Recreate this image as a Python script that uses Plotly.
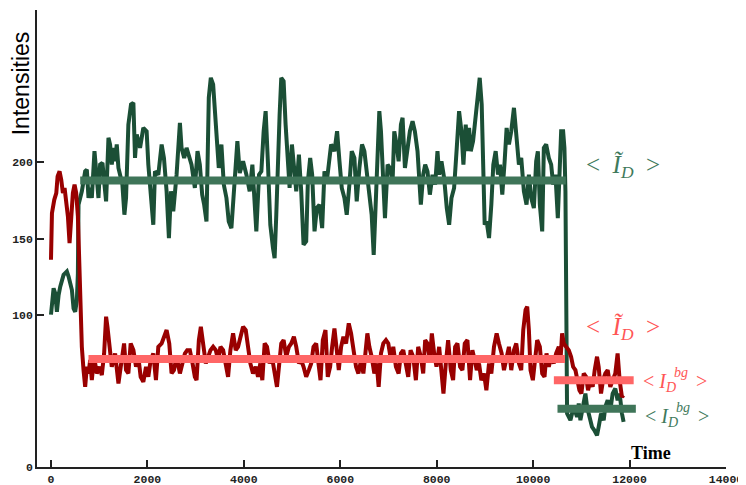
import plotly.graph_objects as go

# ---- data ----
green_t = [0, 20, 54, 89, 123, 158, 192, 261, 330, 365, 399, 434, 468, 502, 537, 558,
           571, 606, 640, 709, 744, 778, 813, 847, 902, 950, 985, 1019, 1068, 1109, 1143,
           1192, 1226, 1261, 1295, 1330, 1364, 1399, 1433, 1481, 1523, 1557, 1605, 1660,
           1709, 1743, 1778, 1847, 1915, 1984, 2019, 2074, 2122, 2157, 2226, 2295, 2343,
           2398, 2446, 2488, 2536, 2605, 2639, 2674, 2708, 2763, 2812, 2860, 2915, 2984,
           3039, 3087, 3136, 3177, 3225, 3273, 3315, 3363, 3398, 3432, 3480, 3535, 3584,
           3639, 3687, 3742, 3777, 3825, 3866, 3915, 3984, 4053, 4121, 4177, 4225, 4259,
           4315, 4363, 4411, 4452, 4501, 4549, 4604, 4638, 4673, 4707, 4742, 4776, 4825,
           4866, 4914, 4949, 4997, 5038, 5087, 5142, 5190, 5238, 5293, 5328, 5376, 5417,
           5466, 5514, 5569, 5624, 5672, 5721, 5762, 5810, 5879, 5934, 5983, 6031, 6086,
           6134, 6189, 6238, 6293, 6341, 6396, 6451, 6500, 6548, 6603, 6651, 6693, 6741,
           6775, 6810, 6844, 6879, 6927, 6982, 7030, 7085, 7120, 7168, 7210, 7258, 7292,
           7341, 7396, 7444, 7499, 7547, 7602, 7637, 7671, 7720, 7761, 7809, 7858, 7913,
           7968, 8016, 8051, 8099, 8154, 8209, 8258, 8306, 8361, 8416, 8464, 8513, 8554,
           8602, 8637, 8671, 8706, 8754, 8788, 8843, 8892, 8933, 8968, 8995, 9036, 9085,
           9133, 9174, 9223, 9271, 9312, 9360, 9409, 9450, 9498, 9546, 9602, 9650, 9705,
           9753, 9808, 9863, 9912, 9960, 10015, 10063, 10098, 10139, 10188, 10222, 10270,
           10325, 10374, 10415, 10463, 10512, 10553, 10581, 10622, 10649, 10670, 10704,
           10773, 10808, 10842, 10911, 10946, 10980, 11035, 11084, 11118, 11173, 11221,
           11270, 11325, 11359, 11408, 11463, 11497, 11546, 11601, 11649, 11704, 11752,
           11794, 11842, 11876]
green_v = [100, 109.6, 117.3, 114, 101.9, 112.9, 118.4, 126.1, 128.3, 125, 120.6, 116.2,
           104.1, 101.9, 109.6, 127.2, 172.2, 176.6, 181, 194.1, 195.2, 176.6, 183.2, 176.6,
           207.3, 189.7, 176.6, 198.5, 199.6, 185.4, 174.4, 216.1, 211.7, 198.5, 209.5,
           200.7, 211.7, 196.3, 191.9, 185.4, 165.6, 176.6, 224.8, 238, 239.1, 202.9, 218.2,
           209.5, 222.6, 220.4, 198.5, 172.2, 159, 194.1, 191.9, 211.7, 202.9, 181, 150.3,
           181, 167.8, 191.9, 213.9, 225.9, 209.5, 202.9, 209.5, 205.1, 198.5, 183.2, 207.3,
           198.5, 178.8, 172.2, 161.2, 242.4, 255.5, 251.1, 231.4, 211.7, 196.3, 211.7,
           185.4, 176.6, 161.2, 156.8, 172.2, 200.7, 213.9, 193, 200.7, 191.9, 181, 198.5,
           172.2, 154.7, 191.9, 194.1, 220.4, 233.6, 198.5, 159, 143.7, 137.1, 165.6, 202.9,
           231.4, 255.5, 253.3, 224.8, 194.1, 183.2, 211.7, 198.5, 181, 205.1, 181, 145.9,
           148.1, 187.5, 202.9, 191.9, 154.7, 170, 172.2, 156.8, 194.1, 187.5, 198.5, 211.7,
           207.3, 220.4, 200.7, 183.2, 176.6, 165.6, 185.4, 207.3, 202.9, 174.4, 196.3,
           211.7, 207.3, 194.1, 181, 165.6, 139.3, 176.6, 216.1, 233.6, 220.4, 189.7, 163.4,
           198.5, 196.3, 187.5, 220.4, 211.7, 200.7, 224.8, 229.2, 196.3, 207.3, 220.4, 227,
           220.4, 207.3, 187.5, 172.2, 191.9, 198.5, 194.1, 178.8, 191.9, 185.4, 207.3,
           191.9, 200.7, 189.7, 170, 159, 176.6, 183.2, 209.5, 233.6, 220.4, 198.5, 224.8,
           207.3, 222.6, 207.3, 213.9, 224.8, 238, 255.5, 238, 198.5, 159, 161.2, 150.3,
           172.2, 198.5, 207.3, 191.9, 198.5, 178.8, 200.7, 222.6, 211.7, 220.4, 235.8,
           218.2, 198.5, 202.9, 181, 172.2, 191.9, 176.6, 170, 200.7, 207.3, 172.2, 154.7,
           209.5, 211.7, 202.9, 198.5, 185.4, 191.9, 163.4, 198.5, 220.4, 220.4, 209.5, 181,
           35.1, 30.7, 35.1, 39.5, 32.9, 41.7, 30.7, 39.5, 48.2, 39.5, 32.9, 26.3, 24.1,
           20.8, 26.3, 35.1, 30.7, 39.5, 43.8, 37.3, 48.2, 51.5, 43.8, 48.2, 35.1, 29.6]

red_t = [0, 10, 20, 68, 110, 137, 178, 213, 247, 282, 316, 351, 385, 420, 454, 489, 523,
         558, 578, 606, 640, 675, 709, 744, 778, 813, 847, 895, 950, 1006, 1054, 1102, 1143,
         1171, 1212, 1261, 1330, 1399, 1447, 1516, 1557, 1605, 1653, 1709, 1764, 1812, 1860,
         1915, 1971, 2019, 2067, 2122, 2177, 2226, 2295, 2343, 2398, 2453, 2501, 2550, 2605,
         2674, 2729, 2777, 2825, 2880, 2936, 2984, 3019, 3067, 3108, 3156, 3211, 3260, 3308,
         3363, 3418, 3466, 3515, 3570, 3625, 3673, 3721, 3777, 3832, 3880, 3915, 3984, 4039,
         4087, 4135, 4190, 4246, 4294, 4342, 4383, 4432, 4480, 4535, 4583, 4638, 4687, 4728,
         4776, 4825, 4880, 4935, 4983, 5038, 5087, 5142, 5190, 5238, 5293, 5348, 5397, 5445,
         5500, 5548, 5590, 5638, 5693, 5741, 5790, 5831, 5879, 5927, 5969, 6017, 6065, 6120,
         6176, 6224, 6272, 6327, 6376, 6431, 6479, 6520, 6562, 6603, 6651, 6706, 6755, 6796,
         6844, 6893, 6948, 6996, 7051, 7099, 7154, 7210, 7258, 7306, 7361, 7409, 7458, 7513,
         7568, 7616, 7671, 7720, 7761, 7809, 7858, 7899, 7947, 7995, 8051, 8099, 8140, 8189,
         8237, 8292, 8340, 8382, 8430, 8485, 8533, 8582, 8637, 8692, 8740, 8788, 8830, 8878,
         8926, 8981, 9030, 9085, 9133, 9188, 9243, 9291, 9347, 9395, 9443, 9498, 9546, 9602,
         9650, 9705, 9753, 9795, 9843, 9877, 9912, 9946, 9994, 10036, 10084, 10139, 10188,
         10236, 10277, 10325, 10374, 10429, 10477, 10532, 10567, 10601, 10636, 10684, 10739,
         10787, 10829, 10877, 10911, 10960, 11001, 11049, 11098, 11139, 11187, 11235, 11277,
         11325, 11359, 11408, 11449, 11497, 11546, 11601, 11649, 11704, 11752, 11794, 11842,
         11876]
red_v = [136, 148, 166.6, 175.4, 179.8, 190.8, 194.1, 188.6, 179.8, 183.1, 175.4, 164.5,
         146.9, 164.5, 179.8, 185.3, 179.8, 164.5, 144.7, 98.7, 78.9, 63.6, 52.6, 65.8, 61.4,
         70.2, 57, 72.3, 61.4, 65.8, 60.3, 74.5, 98.7, 92.1, 76.7, 65.8, 74.5, 54.8, 65.8,
         81.1, 63.6, 61.4, 81.1, 76.7, 65.8, 72.3, 59.2, 55.9, 65.8, 59.2, 70.1, 74.5, 57,
         78.9, 81.1, 85.5, 89.9, 81.1, 61.4, 63.6, 72.3, 61.4, 70.1, 74.5, 76.7, 76.7, 68,
         59.2, 57, 83.3, 92.1, 78.9, 68, 72.3, 76.7, 78.9, 76.7, 70.1, 78.9, 76.7, 65.8,
         59.2, 76.7, 87.7, 76.7, 78.9, 83.3, 92.1, 89.9, 78.9, 68, 61.4, 65.8, 59.2, 68, 57,
         81.1, 78.9, 68, 72.4, 63.6, 52.6, 65.8, 81.1, 83.3, 72.4, 78.9, 81.1, 85.5, 78.9,
         68, 70.2, 65.8, 59.2, 63.6, 68, 78.9, 81.1, 68, 57, 83.3, 89.9, 59.2, 65.8, 78.9,
         91, 76.7, 63.6, 78.9, 85.5, 81.1, 94.3, 87.7, 78.9, 65.8, 61.4, 70.2, 61.4, 76.7,
         87.7, 78.9, 72.4, 61.4, 68, 52.6, 74.6, 81.1, 83.3, 81.1, 70.2, 78.9, 65.8, 61.4,
         74.6, 76.7, 68, 59.2, 76.7, 72.4, 57, 78.9, 72.4, 61.4, 83.3, 81.1, 70.2, 87.7,
         74.6, 65.8, 78.9, 61.4, 48.2, 68, 83.3, 63.6, 57, 78.9, 81.1, 65.8, 63.6, 81.1,
         83.3, 57, 76.7, 70.2, 63.6, 68, 57, 61.4, 50.4, 68, 61.4, 78.9, 87.7, 81.1, 74.6,
         63.6, 70.2, 78.9, 63.6, 76.7, 81.1, 68, 63.6, 89.9, 103.1, 105.3, 89.9, 63.6, 57,
         70.2, 83.3, 78.9, 61.4, 59.2, 74.6, 65.8, 72.4, 68, 74.6, 78.9, 70.2, 87.7, 81.1,
         78.9, 76.7, 72.4, 65.8, 63.6, 57, 50.4, 48.2, 61.4, 59.2, 50.4, 57, 52.6, 63.6,
         72.4, 65.8, 48.2, 57, 61.4, 63.6, 52.6, 57, 61.4, 74.6, 57, 46, 47.1]

# mean levels: [start time, end time], level
green_mean_t = [606, 10678]
green_mean_v = 188.0
red_mean_t = [778, 10660]
red_mean_v = 70.9
red_bg_t = [10430, 12085]
red_bg_v = 57.0
green_bg_t = [10505, 12130]
green_bg_v = 38.2

x_ticks = [0, 2000, 4000, 6000, 8000, 10000, 12000, 14000]
y_ticks = [0, 100, 150, 200, 300]

DARK_GREEN = "#1b4f36"
DARK_RED = "#990000"
MEAN_GREEN = "#3f7559"
MEAN_RED = "#ff6666"
TXT_GREEN = "#3f7a5c"
TXT_RED = "#ff5555"

fig = go.Figure()
fig.add_trace(go.Scatter(x=green_t, y=green_v, mode="lines",
                         line=dict(color=DARK_GREEN, width=4)))
fig.add_trace(go.Scatter(x=red_t, y=red_v, mode="lines",
                         line=dict(color=DARK_RED, width=4)))
for tt, vv, col in [(green_mean_t, green_mean_v, MEAN_GREEN),
                    (red_mean_t, red_mean_v, MEAN_RED),
                    (red_bg_t, red_bg_v, MEAN_RED),
                    (green_bg_t, green_bg_v, MEAN_GREEN)]:
    fig.add_trace(go.Scatter(x=tt, y=[vv, vv], mode="lines",
                             line=dict(color=col, width=8)))

tick_font = dict(family="Liberation Mono", size=11.5, color="#222222", weight="bold")
fig.update_xaxes(range=[-290, 14000], tickvals=x_ticks, ticktext=[str(v) for v in x_ticks],
                 ticks="inside", ticklen=7, tickwidth=1.5, tickcolor="#222222",
                 showline=True, linecolor="#222222", linewidth=1.5, showgrid=False,
                 zeroline=False, tickfont=tick_font, automargin=False)
fig.update_yaxes(range=[0, 300], tickvals=y_ticks, ticktext=[str(v) for v in y_ticks],
                 ticks="inside", ticklen=7, tickwidth=1.5, tickcolor="#222222",
                 showline=True, linecolor="#222222", linewidth=1.5, showgrid=False,
                 zeroline=False, tickfont=tick_font, automargin=False)

serif = "Liberation Serif"
big = "&lt;&nbsp; <i>Ĩ</i><sub><i>D</i></sub>&nbsp; &gt;"
small = "&lt; <i>I</i><sub><i>D</i></sub>&nbsp;&nbsp;&nbsp; &gt;"
ann = [
    dict(x=-0.023, y=0.84, xref="paper", yref="paper", text="Intensities", textangle=-90,
         showarrow=False, font=dict(family="Liberation Sans", size=23, color="#000000"),
         xanchor="center", yanchor="middle"),
    dict(x=12435, y=9, xref="x", yref="y", text="<b>Time</b>", showarrow=False,
         font=dict(family=serif, size=18, color="#000000"), xanchor="center", yanchor="middle"),
    dict(x=11049, y=197.4, xref="x", yref="y", text=big, showarrow=False,
         font=dict(family=serif, size=25, color=TXT_GREEN), xanchor="left", yanchor="middle"),
    dict(x=11049, y=91.2, xref="x", yref="y", text=big, showarrow=False,
         font=dict(family=serif, size=25, color=TXT_RED), xanchor="left", yanchor="middle"),
    dict(x=12230, y=55.7, xref="x", yref="y", text=small, showarrow=False,
         font=dict(family=serif, size=20, color=TXT_RED), xanchor="left", yanchor="middle"),
    dict(x=13060, y=62.0, xref="x", yref="y", text="<i>bg</i>", showarrow=False,
         font=dict(family=serif, size=14, color=TXT_RED), xanchor="center", yanchor="middle"),
    dict(x=12271, y=32.7, xref="x", yref="y", text=small, showarrow=False,
         font=dict(family=serif, size=20, color=TXT_GREEN), xanchor="left", yanchor="middle"),
    dict(x=13100, y=39.0, xref="x", yref="y", text="<i>bg</i>", showarrow=False,
         font=dict(family=serif, size=14, color=TXT_GREEN), xanchor="center", yanchor="middle"),
]

# the page body adds an 8 px offset, so margins are shifted accordingly
fig.update_layout(width=746, height=485, margin=dict(l=29, r=28, t=2, b=26),
                  paper_bgcolor="white", plot_bgcolor="white", showlegend=False,
                  annotations=ann)
fig.write_html("out.html")
